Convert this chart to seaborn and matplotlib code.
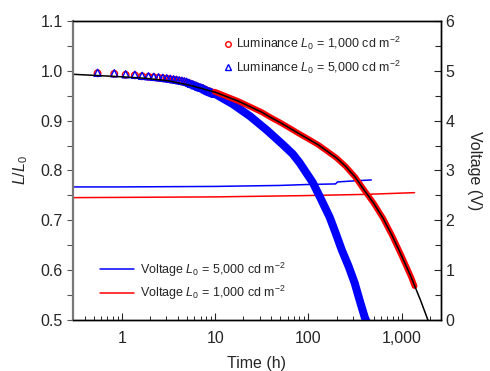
import numpy as np
import pandas as pd
import seaborn as sns
import matplotlib.pyplot as plt
from matplotlib.lines import Line2D
from matplotlib.ticker import FixedLocator, MultipleLocator, LogLocator, FuncFormatter, NullFormatter

# early (distinct) measurement points
t_early = [0.55, 0.83, 1.1, 1.38, 1.65, 1.93, 2.2, 2.48, 2.75, 3.03, 3.3, 3.58, 3.85, 4.13,
           4.4, 4.68, 4.95, 5.23, 5.5, 5.78, 6.05, 6.33, 6.6, 6.88, 7.15, 7.43, 7.7, 7.98,
           8.25, 8.53, 8.8, 9.08, 9.35, 9.63, 9.9]
lum_5000_early = [0.996, 0.995, 0.993, 0.992, 0.990, 0.989, 0.988, 0.987, 0.986, 0.985, 0.984,
                  0.983, 0.982, 0.981, 0.980, 0.979, 0.978, 0.976, 0.974, 0.973, 0.971, 0.970,
                  0.968, 0.967, 0.966, 0.965, 0.963, 0.962, 0.960, 0.959, 0.958, 0.957, 0.956,
                  0.955, 0.954]
lum_1000_early = [0.995, 0.994, 0.992, 0.991, 0.989, 0.988, 0.987, 0.986, 0.985, 0.984, 0.983,
                  0.982, 0.981, 0.980, 0.979, 0.978, 0.976, 0.975, 0.973, 0.972, 0.970, 0.969,
                  0.967, 0.966, 0.965, 0.964, 0.962, 0.961, 0.960, 0.959, 0.958, 0.957, 0.956,
                  0.955, 0.954]

# dense part of the decay curves
t_1000 = [9.9, 17.8, 31.6, 39.8, 50, 63, 79, 100, 126, 158, 200, 251, 316, 398, 501, 631,
          794, 1000, 1259, 1370]
lum_1000 = [0.958, 0.939, 0.917, 0.906, 0.896, 0.885, 0.874, 0.863, 0.852, 0.839, 0.825,
            0.808, 0.787, 0.760, 0.734, 0.704, 0.668, 0.628, 0.586, 0.568]
t_5000 = [9.9, 15.5, 23.6, 35.8, 53.1, 67.9, 80.7, 111, 135, 169, 196, 227, 270, 313, 353,
          400, 425]
lum_5000 = [0.954, 0.933, 0.909, 0.881, 0.852, 0.833, 0.815, 0.776, 0.744, 0.706, 0.674,
            0.641, 0.607, 0.574, 0.540, 0.506, 0.494]

# fit
t_fit = [0.3, 1, 1.78, 3.16, 5.62, 10, 17.8, 31.6, 39.8, 50, 63, 79, 100, 126, 158, 200,
         251, 316, 398, 501, 631, 794, 1000, 1259, 1585, 1905, 2100]
lum_fit = [0.993, 0.988, 0.985, 0.980, 0.970, 0.957, 0.939, 0.917, 0.906, 0.896, 0.885,
           0.874, 0.863, 0.852, 0.839, 0.825, 0.808, 0.787, 0.760, 0.734, 0.704, 0.668,
           0.628, 0.586, 0.540, 0.500, 0.478]

# voltage
t_v5000 = [0.3, 1, 10, 50, 103, 195, 205, 300, 472]
v_5000 = [2.67, 2.67, 2.68, 2.70, 2.72, 2.73, 2.77, 2.79, 2.81]
t_v1000 = [0.3, 1, 10, 87, 400, 1370]
v_1000 = [2.455, 2.46, 2.47, 2.495, 2.52, 2.555]

sns.set_style("ticks")
plt.rcParams['font.family'] = ['Liberation Sans', 'DejaVu Sans']
plt.rcParams['mathtext.fontset'] = 'custom'
plt.rcParams['mathtext.rm'] = 'Liberation Sans'
plt.rcParams['mathtext.it'] = 'Liberation Sans:italic'

fig = plt.figure(figsize=(4.9, 3.71), dpi=100)
ax = fig.add_axes([0.149, 0.1375, 0.75, 0.806])
ax2 = ax.twinx()
ax.set_zorder(ax2.get_zorder() + 1)
ax.patch.set_visible(False)

RED = '#ff0000'
BLUE = '#0000ff'

# voltage on right axis
sns.lineplot(x=t_v5000, y=v_5000, ax=ax2, color=BLUE, lw=1.1, sort=False)
sns.lineplot(x=t_v1000, y=v_1000, ax=ax2, color=RED, lw=1.1, sort=False)

# luminance
sns.lineplot(x=t_5000, y=lum_5000, ax=ax, color=BLUE, lw=5.8, sort=False,
             solid_capstyle='round', solid_joinstyle='round')
sns.lineplot(x=t_1000, y=lum_1000, ax=ax, color=RED, lw=4.2, sort=False,
             solid_capstyle='round', solid_joinstyle='round')
sns.scatterplot(x=t_early, y=lum_1000_early, ax=ax, marker='o', s=22, facecolor='none',
                edgecolor=RED, linewidth=1.0)
sns.scatterplot(x=t_early, y=lum_5000_early, ax=ax, marker='^', s=26, facecolor='none',
                edgecolor=BLUE, linewidth=1.0)
sns.lineplot(x=t_fit, y=lum_fit, ax=ax, color='black', lw=1.1, sort=False)

ax.set_xscale('log')
ax.set_xlim(0.3, 2600)
ax.set_ylim(0.5, 1.1)
ax2.set_ylim(0, 6)

ax.xaxis.set_major_locator(FixedLocator([1, 10, 100, 1000]))
ax.xaxis.set_major_formatter(FuncFormatter(lambda v, p: f"{int(v):,}"))
ax.xaxis.set_minor_locator(LogLocator(base=10, subs=np.arange(2, 10)))
ax.xaxis.set_minor_formatter(NullFormatter())
ax.yaxis.set_major_locator(MultipleLocator(0.1))
ax.yaxis.set_minor_locator(MultipleLocator(0.05))
ax.yaxis.set_major_formatter(FuncFormatter(lambda v, p: f"{v:.1f}"))
ax2.yaxis.set_major_locator(MultipleLocator(1))
ax2.yaxis.set_minor_locator(MultipleLocator(0.5))

fs = 11.5
ax.tick_params(axis='x', which='both', direction='in', labelsize=fs, pad=8, top=False)
ax.tick_params(axis='x', which='major', length=5, width=0.8)
ax.tick_params(axis='x', which='minor', length=3, width=0.7)
ax.tick_params(axis='y', which='both', direction='out', labelsize=fs, length=4, width=0.8,
               color='#555555', right=False)
ax2.tick_params(axis='y', which='both', direction='in', labelsize=fs, length=5, width=0.8)
ax2.tick_params(axis='y', which='minor', length=4)

for a in (ax, ax2):
    for s in a.spines.values():
        s.set_linewidth(1.0)
        s.set_color('black')
ax.spines['left'].set_color('#777777')
ax.spines['left'].set_linewidth(1.6)
ax2.spines['left'].set_visible(False)

ax.set_xlabel('Time (h)', fontsize=fs, labelpad=7)
ax.set_ylabel('$L/L_0$', fontsize=fs, labelpad=7)
ax2.set_ylabel('Voltage (V)', fontsize=fs, rotation=270, labelpad=20)

lfs = 9
h1 = [Line2D([], [], ls='none', marker='o', mfc='none', mec=RED, ms=4, mew=1.0),
      Line2D([], [], ls='none', marker='^', mfc='none', mec=BLUE, ms=4.5, mew=1.0)]
leg1 = ax.legend(h1, ['Luminance $L_0$ = 1,000 cd m$^{-2}$', 'Luminance $L_0$ = 5,000 cd m$^{-2}$'],
                 loc='upper left', bbox_to_anchor=(0.39, 0.975), frameon=False, fontsize=lfs,
                 handlelength=0.8, handletextpad=0.3, labelspacing=0.5, borderpad=0)
ax.add_artist(leg1)
h2 = [Line2D([], [], color=BLUE, lw=1.1), Line2D([], [], color=RED, lw=1.1)]
ax.legend(h2, ['Voltage $L_0$ = 5,000 cd m$^{-2}$', 'Voltage $L_0$ = 1,000 cd m$^{-2}$'],
          loc='upper left', bbox_to_anchor=(0.056, 0.22), frameon=False, fontsize=lfs,
          handlelength=2.7, handletextpad=0.5, labelspacing=0.45, borderpad=0)

fig.savefig('out.png', dpi=100)
